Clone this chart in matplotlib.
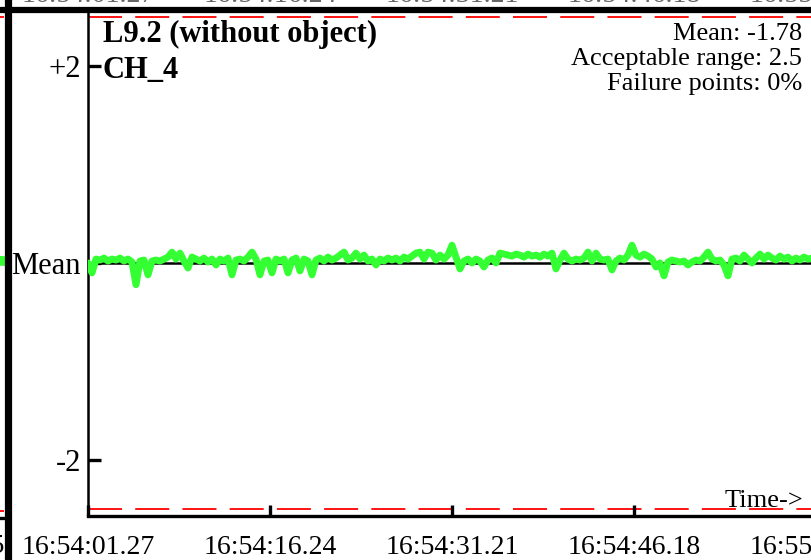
import numpy as np
import matplotlib
matplotlib.use("Agg")
import matplotlib.pyplot as plt
from matplotlib.lines import Line2D

plt.rcParams['font.family'] = ['Liberation Serif', 'DejaVu Serif']
plt.rcParams['lines.scale_dashes'] = False

# ---------------- data ----------------
title = "L9.2 (without object)"
channel = "CH_4"
mean_value = -1.78
acceptable_range = 2.5
failure_points = "0%"
tick_step_s = 14.97
tick_labels = ["16:54:01.27", "16:54:16.24", "16:54:31.21", "16:54:46.18", "16:55:01.15"]
sample_interval_s = 0.329
values = [
    -1.78, -1.88, -1.74, -1.75, -1.73, -1.76, -1.74, -1.75, -1.73, -1.76,
    -1.74, -1.77, -2.00, -1.76, -1.75, -1.90, -1.76, -1.75, -1.76, -1.74,
    -1.72, -1.67, -1.74, -1.68, -1.76, -1.83, -1.72, -1.74, -1.76, -1.73,
    -1.77, -1.74, -1.80, -1.74, -1.76, -1.73, -1.90, -1.75, -1.74, -1.76,
    -1.72, -1.67, -1.74, -1.90, -1.76, -1.75, -1.88, -1.74, -1.76, -1.74,
    -1.88, -1.75, -1.73, -1.86, -1.74, -1.76, -1.90, -1.75, -1.73, -1.76,
    -1.72, -1.75, -1.73, -1.70, -1.67, -1.75, -1.73, -1.68, -1.74, -1.70,
    -1.76, -1.74, -1.80, -1.74, -1.76, -1.73, -1.75, -1.73, -1.76, -1.72,
    -1.74, -1.71, -1.68, -1.67, -1.74, -1.67, -1.68, -1.75, -1.70, -1.74,
    -1.70, -1.60, -1.72, -1.84, -1.76, -1.74, -1.78, -1.74, -1.76, -1.82,
    -1.75, -1.73, -1.78, -1.68, -1.69, -1.70, -1.71, -1.69, -1.70, -1.72,
    -1.69, -1.71, -1.70, -1.72, -1.69, -1.71, -1.68, -1.84, -1.75, -1.68,
    -1.74, -1.76, -1.74, -1.75, -1.73, -1.67, -1.76, -1.68, -1.74, -1.75,
    -1.74, -1.85, -1.76, -1.73, -1.75, -1.70, -1.60, -1.70, -1.72, -1.69,
    -1.71, -1.74, -1.82, -1.78, -1.91, -1.77, -1.75, -1.76, -1.77, -1.76,
    -1.80, -1.77, -1.75, -1.76, -1.72, -1.67, -1.74, -1.76, -1.75, -1.80,
    -1.91, -1.74, -1.73, -1.76, -1.70, -1.74, -1.78, -1.73, -1.69, -1.74,
    -1.70, -1.73, -1.75, -1.71, -1.74, -1.72, -1.76, -1.73, -1.75, -1.72,
    -1.74, -1.73,
]
# tail of the neighbouring (previous) panel visible at the far left
prev_values = [-1.74, -1.70, -1.77, -1.72, -1.75]
prev_tick_label = "16:53:46.15"
# ---------------------------------------

W, H = 812, 560
fig = plt.figure(figsize=(W / 100, H / 100), dpi=100)

def fx(px):
    return px / W

def fy(py):
    return 1 - py / H

green = '#33ff33'
half = 2.566

# main axes
left_px, right_px, top_px, bot_px = 88, 900, 10, 516
ax = fig.add_axes([fx(left_px), fy(bot_px), fx(right_px - left_px), (bot_px - top_px) / H])
times = np.arange(len(values)) * sample_interval_s
xmax = (right_px - left_px) / 182 * tick_step_s
ax.set_xlim(0, xmax)
ax.set_ylim(mean_value - half, mean_value + half)

for s in ('top', 'right'):
    ax.spines[s].set_visible(False)
ax.spines['left'].set_linewidth(1.8)
ax.spines['bottom'].set_linewidth(2.4)

for lvl in (mean_value + acceptable_range, mean_value - acceptable_range):
    ax.axhline(lvl, color='red', lw=1.3, dashes=(24.5, 9.5), zorder=1)
ax.axhline(mean_value, color='black', lw=1.8, zorder=2)
ax.plot(times, values, color=green, lw=5.0, solid_joinstyle='round',
        solid_capstyle='round', zorder=3)

ax.set_yticks([mean_value + 2, mean_value, mean_value - 2])
ax.set_yticklabels(['+2', 'Mean', '-2'])
ax.tick_params(axis='y', direction='in', length=9, width=2.4, labelsize=22, pad=5)
xt = np.arange(len(tick_labels)) * tick_step_s
ax.set_xticks(xt)
ax.set_xticklabels(tick_labels)
ax.tick_params(axis='x', direction='in', length=8, width=2.4, labelsize=20, pad=14)

# texts
fig.text(fx(103), fy(42), title, fontsize=22, fontweight='bold', va='baseline', ha='left')
fig.text(fx(103), fy(78), channel, fontsize=22, fontweight='bold', va='baseline', ha='left')
fig.text(fx(802), fy(40), f"Mean: {mean_value:.2f}", fontsize=19, ha='right', va='baseline')
fig.text(fx(802), fy(65), f"Acceptable range: {acceptable_range}", fontsize=19, ha='right', va='baseline')
fig.text(fx(802), fy(90), f"Failure points: {failure_points}", fontsize=19, ha='right', va='baseline')
fig.text(fx(803), fy(507), "Time->", fontsize=19, ha='right', va='baseline')

# neighbouring panel fragment on the left
axp = fig.add_axes([fx(-200), fy(518), fx(204), (518 - top_px) / H])
axp.set_xlim(0, len(prev_values) - 1)
axp.set_ylim(mean_value - half, mean_value + half)
for s in ('top', 'right', 'left'):
    axp.spines[s].set_visible(False)
axp.spines['bottom'].set_linewidth(2.4)
axp.set_xticks([])
axp.set_yticks([])
for lvl in (mean_value + acceptable_range, mean_value - acceptable_range):
    axp.axhline(lvl, color='red', lw=1.3, dashes=(24.5, 9.5))
axp.plot(np.arange(len(prev_values)), prev_values, color=green, lw=7, clip_on=False)
fig.text(fx(5), fy(553), prev_tick_label, fontsize=20, ha='right', va='baseline')

# panel above: bottoms of its time labels
for i, lab in enumerate(tick_labels):
    fig.text(fx(left_px + 182 * i), fy(1.5), lab, fontsize=20, ha='center', va='baseline', color='#666666')

# panel separators
fig.add_artist(Line2D([0, 1], [fy(10), fy(10)], transform=fig.transFigure, color='black', lw=4.5))
fig.add_artist(Line2D([fx(7.5), fx(7.5)], [0, 1], transform=fig.transFigure, color='black', lw=5.2))

fig.savefig('out.png', dpi=100)
